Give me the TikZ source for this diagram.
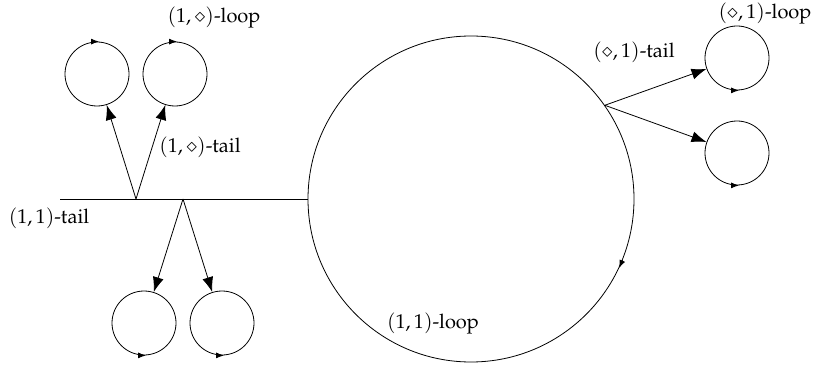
\documentclass[tikz,border=0pt]{standalone}
\usepackage[T1]{fontenc}
\usepackage{mathpazo}
\usetikzlibrary{arrows.meta}
\begin{document}
\begin{tikzpicture}[x=1pt,y=-1pt,
  line width=0.8pt,
  loopc/.style={circle,draw,minimum size=64pt,inner sep=0pt},
  bigarrow/.style={-{Latex[length=15pt,width=11pt]}},
  smallarrow/.style={-{Latex[length=8pt,width=6pt]}},
  lbl/.style={inner sep=0pt,font=\fontsize{20}{24}\selectfont}]
\useasboundingbox (0,0) rectangle (816,366);
% big loop
\node[circle,draw,minimum size=326pt,inner sep=0pt] (big) at (471,199) {};
\coordinate (t0) at (60,199);
\draw (t0) -- (big.west);
\coordinate (bu) at (136,199);
\coordinate (bd) at (183,199);
\coordinate (br) at (big.35);
% small loops
\node[loopc] (c1) at (97,74) {};
\node[loopc] (c2) at (175,74) {};
\node[loopc] (c3) at (144,323) {};
\node[loopc] (c4) at (222,323) {};
\node[loopc] (c5) at (737,58) {};
\node[loopc] (c6) at (737,153) {};
% connectors
\draw[bigarrow] (bu) -- (c1);
\draw[bigarrow] (bu) -- (c2);
\draw[bigarrow] (bd) -- (c3);
\draw[bigarrow] (bd) -- (c4);
\draw[bigarrow] (br) -- (c5);
\draw[bigarrow] (br) -- (c6);
% direction marks on loops
\draw[smallarrow] ([xshift=-3pt]c1.north) -- ([xshift=2pt]c1.north);
\draw[smallarrow] ([xshift=-3pt]c2.north) -- ([xshift=2pt]c2.north);
\draw[smallarrow] ([xshift=-3pt]c3.south) -- ([xshift=2pt]c3.south);
\draw[smallarrow] ([xshift=-3pt]c4.south) -- ([xshift=2pt]c4.south);
\draw[smallarrow] ([xshift=-3pt]c5.south) -- ([xshift=2pt]c5.south);
\draw[smallarrow] ([xshift=-3pt]c6.south) -- ([xshift=2pt]c6.south);
\draw[smallarrow] (big.-22) -- (big.-25.5);
% labels
\node[lbl] (l1) at (214,18) {$(1,\diamond)$-loop};
\node[lbl] (l2) at (200,147) {$(1,\diamond)$-tail};
\node[lbl] (l3) at (49,218) {$(1,1)$-tail};
\node[lbl] (l4) at (433,323) {$(1,1)$-loop};
\node[lbl] (l5) at (634,52) {$(\diamond,1)$-tail};
\node[lbl] (l6) at (765,14) {$(\diamond,1)$-loop};
\end{tikzpicture}
\end{document}
